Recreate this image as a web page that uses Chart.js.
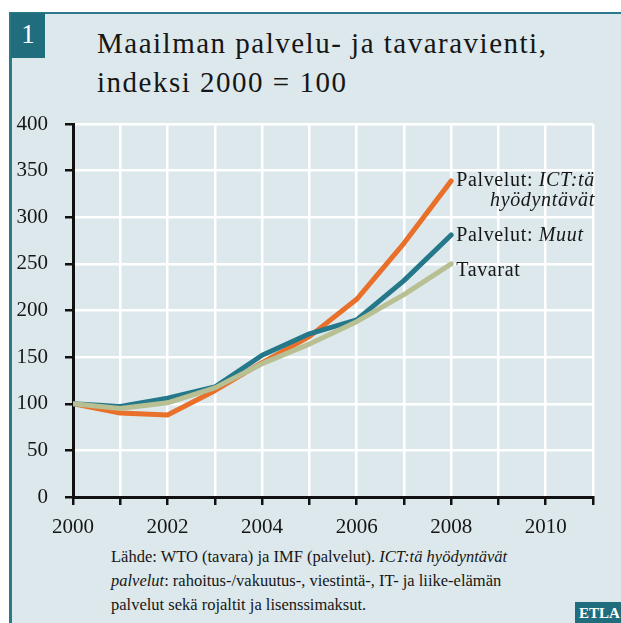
<!DOCTYPE html>
<html>
<head>
<meta charset="utf-8">
<script src="https://cdn.jsdelivr.net/npm/chart.js@4/dist/chart.umd.min.js"></script>
<style>
  body { margin: 0; background: #fff; width: 621px; height: 623px; overflow: hidden; position: relative; font-family: "Liberation Serif", serif; color: #161616; }
  #panel { position: absolute; left: 9px; top: 12px; width: 620px; height: 620px; background: #dce8ec; border-left: 3px solid #2a7889; border-top: 2px solid #2a7889; }
  #num { position: absolute; left: 11px; top: 13px; width: 34px; height: 45px; background: #1f6d7d; color: #fff; font-size: 27px; text-align: center; line-height: 42px; }
  #title { position: absolute; left: 97px; top: 24px; font-size: 29px; line-height: 39px; letter-spacing: 1.5px; }
  #chartbox { position: absolute; left: 12px; top: 110px; }
  #note { position: absolute; left: 111px; top: 545px; font-size: 16.5px; line-height: 24px; white-space: nowrap; }
  #etla { position: absolute; left: 575px; top: 602px; width: 50px; height: 24px; background: #1f6d7d; color: #fff; font-weight: bold; font-size: 15px; line-height: 23px; padding-left: 4px; }
</style>
</head>
<body>
<div id="panel"></div>
<div id="num">1</div>
<div id="title">Maailman palvelu- ja tavaravienti,<br>indeksi 2000 = 100</div>
<div id="chartbox"><canvas id="chart" width="600" height="430"></canvas></div>
<div id="note">Lähde: WTO (tavara) ja IMF (palvelut). <i>ICT:tä hyödyntävät</i><br><i>palvelut</i>: rahoitus-/vakuutus-, viestintä-, IT- ja liike-elämän<br>palvelut sekä rojaltit ja lisenssimaksut.</div>
<div id="etla">ETLA</div>
<script>
const years = [2000, 2001, 2002, 2003, 2004, 2005, 2006, 2007, 2008];
const ictServices = [100, 90, 88, 114, 144, 172, 212, 272, 339];
const otherServices = [100, 97, 106, 118, 152, 175, 190, 232, 281];
const goods = [100, 95, 101, 117, 143, 164, 188, 217, 250];
const yTicks = [0, 50, 100, 150, 200, 250, 300, 350, 400];
const xLabelYears = [2000, 2002, 2004, 2006, 2008, 2010];

const serif = '"Liberation Serif", serif';

function points(values) {
    return values.map(function (v, i) { return { x: years[i], y: v }; });
}

// end-of-line labels, drawn next to the last point of each series
const endLabels = {
    ict: [[['Palvelut: ', false], ['ICT:tä', true]], [['hyödyntävät', true]]],
    other: [[['Palvelut: ', false], ['Muut', true]]],
    goods: [[['Tavarat', false]]]
};

const endLabelPlugin = {
    id: 'endLabels',
    afterDatasetsDraw(chart) {
        const ctx = chart.ctx;
        ctx.save();
        ctx.fillStyle = '#161616';
        ctx.textBaseline = 'middle';
        ctx.letterSpacing = '0.65px';
        chart.data.datasets.forEach(function (ds, i) {
            const meta = chart.getDatasetMeta(i);
            const last = meta.data[meta.data.length - 1];
            const lines = endLabels[ds.key];
            let x0 = last.x + 5;
            let y = last.y + ds.labelShift;
            let firstWidth = 0;
            lines.forEach(function (line, li) {
                let w = 0;
                line.forEach(function (run) {
                    ctx.font = (run[1] ? 'italic ' : '') + '20px ' + serif;
                    w += ctx.measureText(run[0]).width;
                });
                let x = li === 0 ? x0 : x0 + firstWidth - w;
                if (li === 0) firstWidth = w;
                line.forEach(function (run) {
                    ctx.font = (run[1] ? 'italic ' : '') + '20px ' + serif;
                    ctx.fillText(run[0], x, y);
                    x += ctx.measureText(run[0]).width;
                });
                y += 20;
            });
        });
        ctx.restore();
    }
};

const ctx = document.getElementById('chart').getContext('2d');
const chart = new Chart(ctx, {
    type: 'line',
    data: {
        datasets: [
            { key: 'goods', data: points(goods), borderColor: '#b7bf93', labelShift: 7 },
            { key: 'other', data: points(otherServices), borderColor: '#24788a', labelShift: 1 },
            { key: 'ict', data: points(ictServices), borderColor: '#e8702a', labelShift: 0 }
        ]
    },
    options: {
        responsive: false,
        animation: false,
        layout: { padding: { top: 14, right: 19, left: 0, bottom: 0 } },
        elements: {
            line: { borderWidth: 5, tension: 0, borderCapStyle: 'round', borderJoinStyle: 'round' },
            point: { radius: 0, hoverRadius: 0 }
        },
        plugins: {
            legend: { display: false },
            tooltip: { enabled: false }
        },
        scales: {
            x: {
                type: 'linear',
                min: 2000,
                max: 2011,
                afterFit: function (s) { s.height = 43; s.paddingLeft = 0; s.paddingRight = 0; },
                afterBuildTicks: function (s) {
                    s.ticks = [];
                    for (let y = 2000; y <= 2011; y++) s.ticks.push({ value: y });
                },
                ticks: {
                    autoSkip: false,
                    maxRotation: 0,
                    padding: 10,
                    color: '#161616',
                    font: { family: serif, size: 21 },
                    callback: function (v) { return xLabelYears.includes(v) ? String(v) : ''; }
                },
                grid: { color: '#ffffff', lineWidth: 2.5, tickColor: '#111', tickWidth: 2.5, tickLength: 8 },
                border: { color: '#111', width: 3 }
            },
            y: {
                min: 0,
                max: 400,
                afterFit: function (s) { s.width = 61; s.paddingTop = 0; s.paddingBottom = 0; },
                afterBuildTicks: function (s) {
                    s.ticks = yTicks.map(function (v) { return { value: v }; });
                },
                ticks: {
                    padding: 17,
                    color: '#161616',
                    font: { family: serif, size: 21 }
                },
                grid: { color: '#ffffff', lineWidth: 2.5, tickColor: '#111', tickWidth: 2.5, tickLength: 8 },
                border: { color: '#111', width: 3 }
            }
        }
    },
    plugins: [endLabelPlugin]
});
</script>
</body>
</html>
